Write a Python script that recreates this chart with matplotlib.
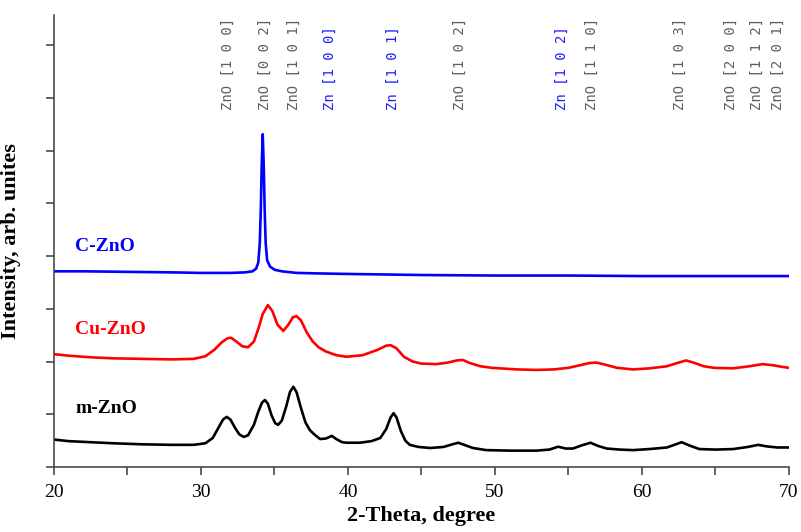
import matplotlib
matplotlib.use('Agg')
import matplotlib.pyplot as plt
from matplotlib.ticker import MultipleLocator

# ── DATA ────────────────────────────────────────────────────────────────────
m_x = [20.0, 21.0, 22.5, 24.0, 26.0, 28.0, 29.5, 30.3, 30.8, 31.2, 31.5, 31.75,
       32.0, 32.3, 32.6, 32.9, 33.2, 33.6, 33.9, 34.15, 34.35, 34.55, 34.8, 35.05,
       35.25, 35.5, 35.8, 36.05, 36.28, 36.5, 36.8, 37.1, 37.4, 37.7, 38.1, 38.5,
       38.9, 39.2, 39.6, 39.9, 40.8, 41.6, 42.2, 42.6, 42.9, 43.1, 43.3, 43.6,
       43.9, 44.2, 44.8, 45.6, 46.5, 47.1, 47.5, 47.9, 48.5, 49.4, 51.0, 52.8,
       53.7, 54.3, 54.8, 55.3, 55.9, 56.5, 57.0, 57.6, 58.5, 59.4, 60.5, 61.7,
       62.2, 62.7, 63.2, 63.9, 65.0, 66.2, 67.2, 67.9, 68.5, 69.2, 70.0]
m_y = [0.52, 0.49, 0.47, 0.45, 0.43, 0.42, 0.42, 0.45, 0.55, 0.75, 0.90, 0.95,
       0.90, 0.75, 0.62, 0.57, 0.60, 0.80, 1.05, 1.22, 1.27, 1.20, 0.98, 0.83,
       0.80, 0.88, 1.15, 1.42, 1.52, 1.42, 1.12, 0.85, 0.70, 0.62, 0.53, 0.54,
       0.59, 0.53, 0.47, 0.46, 0.46, 0.49, 0.55, 0.72, 0.94, 1.02, 0.94, 0.68,
       0.50, 0.42, 0.38, 0.36, 0.38, 0.43, 0.46, 0.42, 0.36, 0.32, 0.31, 0.31,
       0.33, 0.385, 0.35, 0.35, 0.41, 0.46, 0.40, 0.35, 0.33, 0.32, 0.34, 0.37,
       0.42, 0.47, 0.41, 0.34, 0.33, 0.34, 0.38, 0.42, 0.39, 0.37, 0.37]

cu_x = [20.0, 21.0, 22.5, 24.0, 26.0, 28.0, 29.5, 30.3, 30.9, 31.4, 31.8, 32.05,
        32.4, 32.8, 33.2, 33.6, 33.9, 34.2, 34.55, 34.85, 35.2, 35.6, 35.95, 36.25,
        36.5, 36.8, 37.2, 37.6, 38.0, 38.5, 39.2, 39.9, 41.0, 42.0, 42.6, 42.9,
        43.3, 43.8, 44.4, 45.0, 46.0, 46.8, 47.4, 47.8, 48.3, 49.0, 49.8, 51.5,
        52.8, 54.0, 55.0, 55.8, 56.4, 56.9, 57.5, 58.3, 59.4, 60.5, 61.7, 62.5,
        63.0, 63.5, 64.2, 64.9, 66.2, 67.3, 68.2, 68.9, 69.5, 70.0]
cu_y = [2.14, 2.11, 2.08, 2.06, 2.05, 2.04, 2.05, 2.10, 2.22, 2.36, 2.44, 2.45,
        2.38, 2.29, 2.27, 2.38, 2.62, 2.90, 3.07, 2.96, 2.70, 2.58, 2.70, 2.84,
        2.86, 2.78, 2.55, 2.38, 2.27, 2.19, 2.12, 2.09, 2.12, 2.22, 2.30, 2.31,
        2.25, 2.09, 2.00, 1.96, 1.95, 1.98, 2.02, 2.03, 1.97, 1.91, 1.88, 1.85,
        1.84, 1.85, 1.88, 1.93, 1.97, 1.98, 1.94, 1.88, 1.85, 1.87, 1.91, 1.98,
        2.02, 1.98, 1.91, 1.88, 1.87, 1.91, 1.95, 1.93, 1.90, 1.88]

c_x = [20.0, 22.0, 25.0, 28.0, 30.0, 32.0, 33.0, 33.5, 33.75, 33.9, 34.0, 34.07,
       34.13, 34.2, 34.27, 34.33, 34.4, 34.5, 34.7, 35.0, 35.5, 36.5, 38.0, 40.0,
       45.0, 50.0, 55.0, 60.0, 65.0, 70.0]
c_y = [3.71, 3.71, 3.70, 3.69, 3.68, 3.68, 3.69, 3.71, 3.76, 3.88, 4.25, 4.90,
       5.70, 6.31, 5.70, 4.90, 4.25, 3.92, 3.80, 3.74, 3.71, 3.68, 3.67, 3.66,
       3.64, 3.63, 3.63, 3.62, 3.62, 3.62]

# reflection labels along the top
ref_names = ['ZnO [1 0 0]', 'ZnO [0 0 2]', 'ZnO [1 0 1]', 'Zn [1 0 0]',
             'Zn [1 0 1]', 'ZnO [1 0 2]', 'Zn [1 0 2]', 'ZnO [1 1 0]',
             'ZnO [1 0 3]', 'ZnO [2 0 0]', 'ZnO [1 1 2]', 'ZnO [2 0 1]']
ref_pos = [31.86, 34.35, 36.35, 38.78, 43.04, 47.62, 54.54, 56.58,
           62.59, 66.05, 67.80, 69.27]

# ── STYLE ───────────────────────────────────────────────────────────────────
SERIF = 'Liberation Serif'
GRAY = '#5e5e5e'
ZN_BLUE = '#1f1fff'
AXIS = '#4a4a4a'

fig = plt.figure(figsize=(8.01, 5.32), dpi=100)
ax = fig.add_axes([0.0674, 0.1222, 0.9176, 0.8496])

ax.plot(m_x, m_y, color='black', lw=1.9)
ax.plot(cu_x, cu_y, color='#ff0000', lw=1.9)
ax.plot(c_x, c_y, color='#0000ff', lw=1.9)

# sample names
ax.text(21.45, 1.10, 'm-ZnO', color='black', fontsize=14, fontweight='bold',
        family=SERIF, va='center')
ax.text(21.45, 2.60, 'Cu-ZnO', color='#ff0000', fontsize=14, fontweight='bold',
        family=SERIF, va='center')
ax.text(21.45, 4.18, 'C-ZnO', color='#0000ff', fontsize=14, fontweight='bold',
        family=SERIF, va='center')

# reflection markers
for name, pos in zip(ref_names, ref_pos):
    col = ZN_BLUE if name.startswith('Zn ') else GRAY
    ax.text(pos, 6.77, name, rotation=90, ha='center', va='bottom',
            color=col, fontsize=10, family='DejaVu Sans Mono')

# ── AXES ────────────────────────────────────────────────────────────────────
ax.set_xlim(20, 70)
ax.set_ylim(0, 8.57)
ax.xaxis.set_major_locator(MultipleLocator(10))
ax.xaxis.set_minor_locator(MultipleLocator(5))
ax.yaxis.set_major_locator(MultipleLocator(1))
ax.set_yticklabels([])
ax.tick_params(axis='both', which='both', direction='out', color=AXIS,
               width=1.2, length=6)
ax.tick_params(axis='x', labelsize=14, pad=6)
for lbl in ax.get_xticklabels():
    lbl.set_family(SERIF)

for side in ['top', 'right']:
    ax.spines[side].set_visible(False)
for side in ['left', 'bottom']:
    ax.spines[side].set_color(AXIS)
    ax.spines[side].set_linewidth(1.2)

ax.set_xlabel('2-Theta, degree', fontsize=16, fontweight='bold',
              family=SERIF, labelpad=4)
ax.set_ylabel('Intensity, arb. unites', fontsize=16, fontweight='bold',
              family=SERIF, labelpad=14)

fig.savefig('out.png', dpi=100, facecolor='white')
plt.close(fig)
